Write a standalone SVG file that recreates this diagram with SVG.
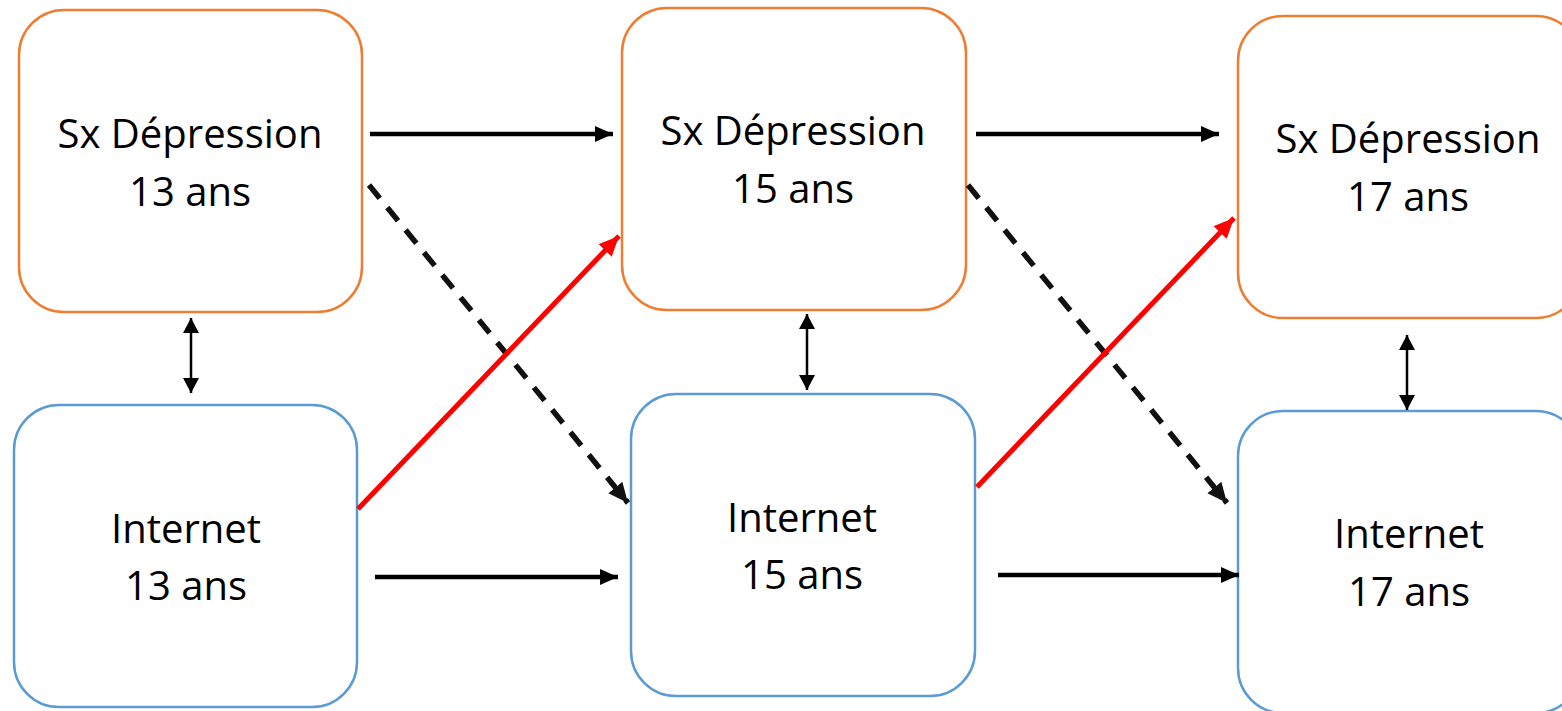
<svg xmlns="http://www.w3.org/2000/svg" width="1562" height="711" viewBox="0 0 1562 711">
<style>
.sx{fill:#fff;stroke:#ED7D31;stroke-width:2.5}
.in{fill:#fff;stroke:#5B9BD5;stroke-width:2.5}
.t{font-family:"Open Sans","Liberation Sans",sans-serif;font-size:40px;fill:#000;text-anchor:middle}
.a{stroke:#000;stroke-width:4.5;fill:none}
.d{stroke:#000;stroke-width:2.5;fill:none}
.r{stroke:#FF0000;stroke-width:5;fill:none}
.ds{stroke:#111;stroke-width:5.5;fill:none;stroke-dasharray:17 12}
</style>
<defs>
<marker id="hb" markerUnits="userSpaceOnUse" markerWidth="20" markerHeight="18" refX="18" refY="8" orient="auto"><path d="M0,0 L18,8 L0,16 z" fill="#000"/></marker>
<marker id="hr" markerUnits="userSpaceOnUse" markerWidth="22" markerHeight="20" refX="20" refY="9" orient="auto"><path d="M0,0 L20,9 L0,18 z" fill="#FF0000"/></marker>
<marker id="hd" markerUnits="userSpaceOnUse" markerWidth="22" markerHeight="20" refX="20" refY="9" orient="auto"><path d="M0,0 L20,9 L0,18 z" fill="#111"/></marker>
<marker id="hv" markerUnits="userSpaceOnUse" markerWidth="18" markerHeight="18" refX="15" refY="8" orient="auto-start-reverse"><path d="M0,0 L15,8 L0,16 z" fill="#000"/></marker>
</defs>
<g id="sx13"><rect class="sx" x="19" y="10" width="343" height="302" rx="45"/><text class="t" x="190" y="148">Sx Dépression</text><text class="t" x="190" y="206">13 ans</text></g>
<g id="sx15"><rect class="sx" x="622" y="8" width="344" height="302" rx="45"/><text class="t" x="793" y="145">Sx Dépression</text><text class="t" x="793" y="203">15 ans</text></g>
<g id="sx17"><rect class="sx" x="1238" y="16" width="343" height="302" rx="45"/><text class="t" x="1408" y="153">Sx Dépression</text><text class="t" x="1408" y="211">17 ans</text></g>
<g id="in13"><rect class="in" x="14" y="405" width="343" height="302" rx="45"/><text class="t" x="186" y="543">Internet</text><text class="t" x="186" y="600">13 ans</text></g>
<g id="in15"><rect class="in" x="631" y="394" width="344" height="302" rx="45"/><text class="t" x="802" y="532">Internet</text><text class="t" x="802" y="589">15 ans</text></g>
<g id="in17"><rect class="in" x="1238" y="411" width="343" height="302" rx="45"/><text class="t" x="1409" y="548">Internet</text><text class="t" x="1409" y="606">17 ans</text></g>
<g id="connectors">
<line class="a" x1="370" y1="134" x2="613" y2="134" marker-end="url(#hb)"/>
<line class="a" x1="976" y1="134" x2="1219" y2="134" marker-end="url(#hb)"/>
<line class="a" x1="375" y1="577" x2="618" y2="577" marker-end="url(#hb)"/>
<line class="a" x1="998" y1="575" x2="1239" y2="575" marker-end="url(#hb)"/>
<line class="ds" x1="369" y1="185" x2="628" y2="503" marker-end="url(#hd)"/>
<line class="ds" x1="968" y1="185" x2="1227" y2="503" marker-end="url(#hd)"/>
<line class="r" x1="358" y1="509" x2="619" y2="236" marker-end="url(#hr)"/>
<line class="r" x1="977" y1="487" x2="1234" y2="218" marker-end="url(#hr)"/>
<line class="d" x1="191" y1="318" x2="191" y2="393" marker-start="url(#hv)" marker-end="url(#hv)"/>
<line class="d" x1="807" y1="314" x2="807" y2="390" marker-start="url(#hv)" marker-end="url(#hv)"/>
<line class="d" x1="1407" y1="335" x2="1407" y2="410" marker-start="url(#hv)" marker-end="url(#hv)"/>
</g>
</svg>
